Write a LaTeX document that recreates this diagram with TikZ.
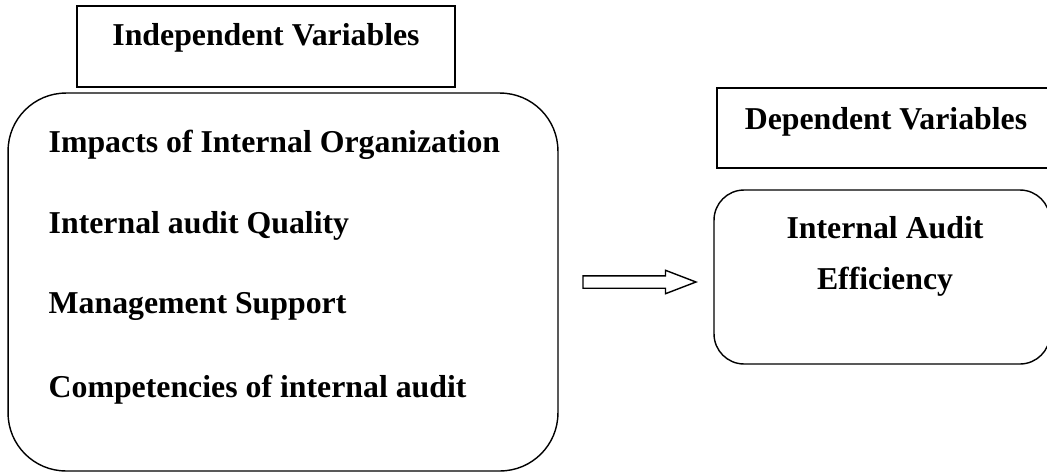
\documentclass[tikz,border=0pt]{standalone}
\usepackage{fontspec}
\setmainfont{Liberation Serif}
\usetikzlibrary{shapes.arrows,positioning}

\begin{document}
\begin{tikzpicture}
			[
				x=0.02cm, y=-0.02cm,
				line width=0.8pt,
				font=\fontsize{18.1}{22}\selectfont\bfseries,
				box/.style={draw, rectangle, inner sep=0pt},
				roundbox/.style={draw, rectangle, rounded corners=#1, inner sep=0pt},
				label/.style={draw=none, fill=none, inner sep=0pt},
				blockarrow/.style={draw, single arrow, inner xsep=0pt, inner ysep=0.11cm,
					minimum height=2.26cm, single arrow head extend=0.11cm,
					single arrow tip angle=42, single arrow head indent=0pt, outer sep=0pt}
			]
			\useasboundingbox (0,0) rectangle (1047,474);

			% boxes
			\node[box, minimum width=7.56cm, minimum height=1.62cm] (indep) at ( 266.0,  46.5 ) {};
			\node[roundbox=1.16cm, minimum width=11.0cm, minimum height=7.56cm] (factors) at ( 283.0, 282.0 ) {};
			\node[box, minimum width=7.0cm, minimum height=1.6cm] (dep) at ( 892.0, 128.0 ) {};
			\node[roundbox=0.6cm, minimum width=6.72cm, minimum height=3.48cm] (result) at ( 882.0, 277.0 ) {};

			% arrow
			\node[blockarrow, anchor=tail] (arr) at ( 583.0, 282.0 ) {};

			% box titles
			\node[label, anchor=base] (indeptxt) at ( 266.0,  45.0 ) {Independent Variables};
			\node[label] (deptxt) at ( 886.0, 122.0 ) {Dependent Variables};

			% independent variables
			\node[label, anchor=base west] (v1) at ( 48.0, 152.0 ) {Impacts of Internal Organization};
			\node[label, anchor=base west] (v2) at ( 48.0, 233.0 ) {Internal audit Quality};
			\node[label, anchor=base west] (v3) at ( 48.0, 313.0 ) {Management Support};
			\node[label, anchor=base west] (v4) at ( 48.0, 397.0 ) {Competencies of internal audit};

			% dependent variable
			\node[label] (r1) at ( 885.0, 228.0 ) {Internal Audit};
			\node[label] (r2) at ( 885.0, 282.0 ) {Efficiency};

		\end{tikzpicture}
\end{document}
